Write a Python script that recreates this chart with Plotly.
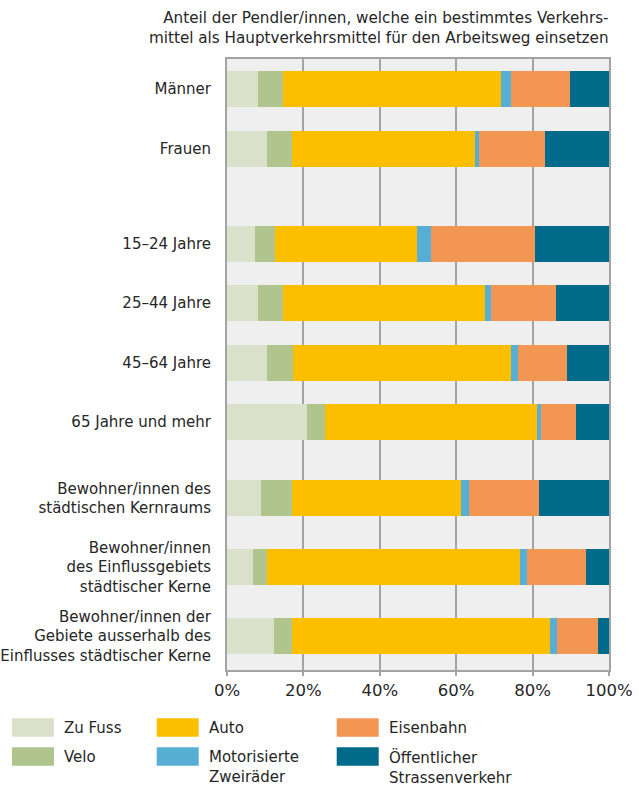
import plotly.graph_objects as go

# ---------------- data ----------------
categories = [
    "Männer",
    "Frauen",
    "15–24 Jahre",
    "25–44 Jahre",
    "45–64 Jahre",
    "65 Jahre und mehr",
    "Bewohner/innen des<br>städtischen Kernraums",
    "Bewohner/innen<br>des Einflussgebiets<br>städtischer Kerne",
    "Bewohner/innen der<br>Gebiete ausserhalb des<br>Einflusses städtischer Kerne",
]

zu_fuss    = [8.0, 10.4, 7.2, 8.0, 10.4, 20.9, 8.8, 6.7, 12.2]
velo       = [6.6, 6.5, 5.3, 6.6, 7.0, 4.7, 8.1, 3.7, 4.7]
auto       = [57.1, 48.0, 37.2, 52.9, 56.9, 55.5, 44.3, 66.3, 67.6]
motorisiert = [2.6, 1.0, 3.7, 1.6, 1.8, 1.1, 2.1, 1.8, 1.9]
eisenbahn  = [15.5, 17.3, 27.2, 17.0, 12.9, 9.2, 18.4, 15.5, 10.7]
oev        = [10.2, 16.8, 19.4, 13.9, 11.0, 8.6, 18.3, 6.0, 2.9]

series_names = ["Zu Fuss", "Velo", "Auto", "Motorisierte<br>Zweiräder",
                "Eisenbahn", "Öffentlicher<br>Strassenverkehr"]
series_values = [zu_fuss, velo, auto, motorisiert, eisenbahn, oev]

x_tick_vals = [0, 20, 40, 60, 80, 100]
x_tick_text = ["0%", "20%", "40%", "60%", "80%", "100%"]

title_text = ("Anteil der Pendler/innen, welche ein bestimmtes Verkehrs-<br>"
              "mittel als Hauptverkehrsmittel für den Arbeitsweg einsetzen")

# ---------------- layout / style ----------------
colors = ["#dbe0ca", "#b0c48d", "#fbbf00", "#57afd5", "#f39654", "#006a8a"]
# vertical row positions (layout units, top-down), uneven like the original
row_pos = [89, 149, 244, 303, 363, 422, 498, 567, 636]
bar_thickness = 36

W, H = 639, 785
ML, MR, MT, MB = 227, 30, 59, 115
PW, PH = W - ML - MR, H - MT - MB

FONT = "DejaVu Sans"
TXT = "#262626"
GRID = "#a3a3a3"


def px_x(px):
    return (px - ML) / PW


def px_y(py):
    return (H - MB - py) / PH


fig = go.Figure()
for name, vals, col in zip(series_names, series_values, colors):
    fig.add_trace(go.Bar(
        x=vals, y=row_pos, orientation="h", name=name,
        marker=dict(color=col, line=dict(width=0)),
        width=bar_thickness, showlegend=False,
        hovertemplate="%{x}%<extra>" + name + "</extra>",
    ))

fig.update_layout(
    width=W, height=H,
    margin=dict(l=ML, r=MR, t=MT, b=MB, pad=0, autoexpand=False),
    barmode="stack",
    paper_bgcolor="white",
    plot_bgcolor="#efefef",
    font=dict(family=FONT, size=15, color=TXT),
    xaxis=dict(
        range=[0, 100], tickmode="array", tickvals=x_tick_vals, ticktext=x_tick_text,
        showgrid=True, gridcolor=GRID, gridwidth=2,
        showline=True, linecolor=GRID, linewidth=2, mirror=True,
        ticks="outside", ticklen=4, tickwidth=2, tickcolor=GRID,
        zeroline=False, tickfont=dict(size=16.5, color=TXT),
        fixedrange=True, automargin=False,
    ),
    yaxis=dict(
        range=[H - MB, MT], autorange=False,
        tickmode="array", tickvals=row_pos, ticktext=categories,
        showgrid=False, zeroline=False,
        showline=True, linecolor=GRID, linewidth=2, mirror=True,
        ticks="", ticklabelstandoff=11,
        tickfont=dict(size=15, color=TXT),
        fixedrange=True, automargin=False,
    ),
)

# title
fig.add_annotation(
    text=title_text, xref="paper", yref="paper",
    x=px_x(611), y=px_y(7), xanchor="right", yanchor="top",
    align="right", showarrow=False,
    font=dict(size=15.2, color=TXT, family=FONT),
)

# custom legend (3 columns x 2 rows)
legend_cols_px = [12, 156.7, 336.7]
legend_rows_px = [718.3, 747.3]
sw_w, sw_h = 42, 18.4
legend_order = [(0, 0), (1, 0), (0, 1), (1, 1), (0, 2), (1, 2)]  # (row, col) per series
for i, (r, c) in enumerate(legend_order):
    x0 = legend_cols_px[c]
    y0 = legend_rows_px[r]
    fig.add_shape(
        type="rect", xref="paper", yref="paper",
        x0=px_x(x0), x1=px_x(x0 + sw_w), y0=px_y(y0), y1=px_y(y0 + sw_h),
        fillcolor=colors[i], line=dict(width=0), layer="above",
    )
    fig.add_annotation(
        text=series_names[i], xref="paper", yref="paper",
        x=px_x(x0 + sw_w + 8), y=px_y(y0 - 1), xanchor="left", yanchor="top",
        align="left", showarrow=False,
        font=dict(size=15, color=TXT, family=FONT),
    )

fig.write_html(
    "out.html",
    config={"displayModeBar": False},
    post_script="document.body.style.margin='0px';document.body.style.overflow='hidden';",
)
